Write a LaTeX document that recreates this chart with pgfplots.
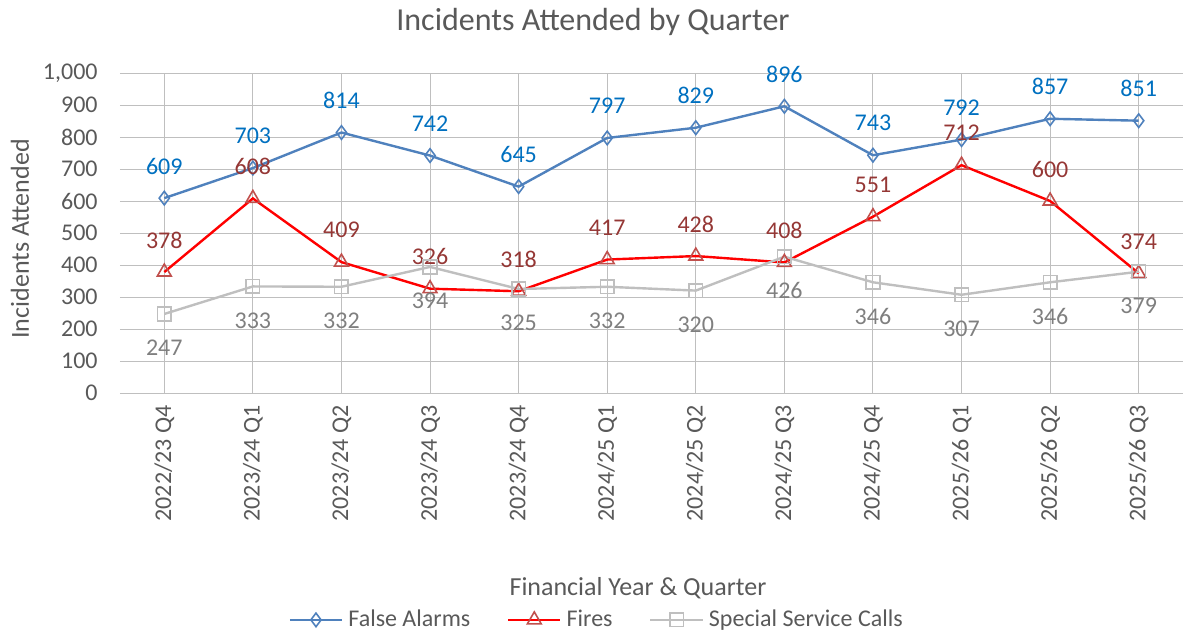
\documentclass[border=0pt]{standalone}
\usepackage{pgfplots}
\pgfplotsset{compat=1.18}
\usepackage{fontspec}
\setmainfont{Carlito}
\definecolor{txt}{HTML}{595959}
\definecolor{grid}{HTML}{D9D9D9}
\definecolor{fa}{HTML}{4F81BD}
\definecolor{falab}{HTML}{0070C0}
\definecolor{fi}{HTML}{FF0000}
\definecolor{fimk}{HTML}{C0504D}
\definecolor{filab}{HTML}{953735}
\definecolor{ss}{HTML}{BFBFBF}
\definecolor{sslab}{HTML}{7F7F7F}
\begin{document}
\begin{tikzpicture}
\path[use as bounding box] (0,0) rectangle (592pt,317pt);
\begin{axis}[
  scale only axis, width=531.5pt, height=160pt,
  at={(60pt,120.5pt)}, anchor=south west,
  xmin=-0.5, xmax=11.5, ymin=0, ymax=1000,
  xtick={0,...,11},
  xticklabels={2022/23 Q4,2023/24 Q1,2023/24 Q2,2023/24 Q3,2023/24 Q4,2024/25 Q1,2024/25 Q2,2024/25 Q3,2024/25 Q4,2025/26 Q1,2025/26 Q2,2025/26 Q3},
  ytick={0,100,...,1000},
  ymajorgrids, grid style={grid, line width=0.5pt},
  axis line style={draw=none},
  major tick length=0pt,
  /pgf/number format/assume math mode=true,
  /pgf/number format/1000 sep={,},
  tick label style={font=\fontsize{12}{14.4}\selectfont, text=txt},
  yticklabel style={inner sep=0pt, xshift=-11pt},
  xticklabel style={inner sep=0pt, yshift=-6pt, rotate=90, anchor=east},
  clip=false,
  legend columns=3,
  legend style={at={(0.4487,-0.709)}, anchor=center, draw=none, fill=none,
    font=\fontsize{12}{14.4}\selectfont, text=txt, inner sep=0pt,
    nodes={inner sep=1.3pt}},
  legend image code/.code={\draw[mark repeat=2,mark phase=2] plot coordinates {(0cm,0cm) (0.46cm,0cm) (0.92cm,0cm)};},
  nodes near coords,
  every node near coord/.append style={font=\fontsize{12}{14.4}\selectfont, anchor=center},
]
\addplot[fa, line width=1.2pt, mark=diamond, mark size=3.4pt,
  mark options={fill=white, draw=fa, line width=0.8pt},
  every node near coord/.append style={text=falab, yshift=16pt}]
  coordinates {(0,609) (1,703) (2,814) (3,742) (4,645) (5,797) (6,829) (7,896) (8,743) (9,792) (10,857) (11,851)};
\addlegendentry{\kern1.2pt False Alarms\kern17pt}
\addplot[fi, line width=1.2pt, mark=triangle, mark size=4pt,
  mark options={fill=none, draw=fimk, line width=0.8pt},
  every node near coord/.append style={text=filab, yshift=16pt}]
  coordinates {(0,378) (1,608) (2,409) (3,326) (4,318) (5,417) (6,428) (7,408) (8,551) (9,712) (10,600) (11,374)};
\addlegendentry{\kern1.2pt Fires\kern17pt}
\addplot[ss, line width=1.2pt, mark=square, mark size=3.4pt,
  mark options={fill=none, draw=ss, line width=0.8pt},
  every node near coord/.append style={text=sslab, yshift=-17pt}]
  coordinates {(0,247) (1,333) (2,332) (3,394) (4,325) (5,332) (6,320) (7,426) (8,346) (9,307) (10,346) (11,379)};
\addlegendentry{\kern1.2pt Special Service Calls}
\end{axis}
\node[text=txt, font=\fontsize{16}{19}\selectfont] at (296.5pt,306pt) {Incidents Attended by Quarter};
\node[text=txt, font=\fontsize{13}{15.6}\selectfont] at (319pt,23pt) {Financial Year \& Quarter};
\node[text=txt, font=\fontsize{13}{15.6}\selectfont, rotate=90] at (10pt,197.5pt) {Incidents Attended};
\end{tikzpicture}
\end{document}
